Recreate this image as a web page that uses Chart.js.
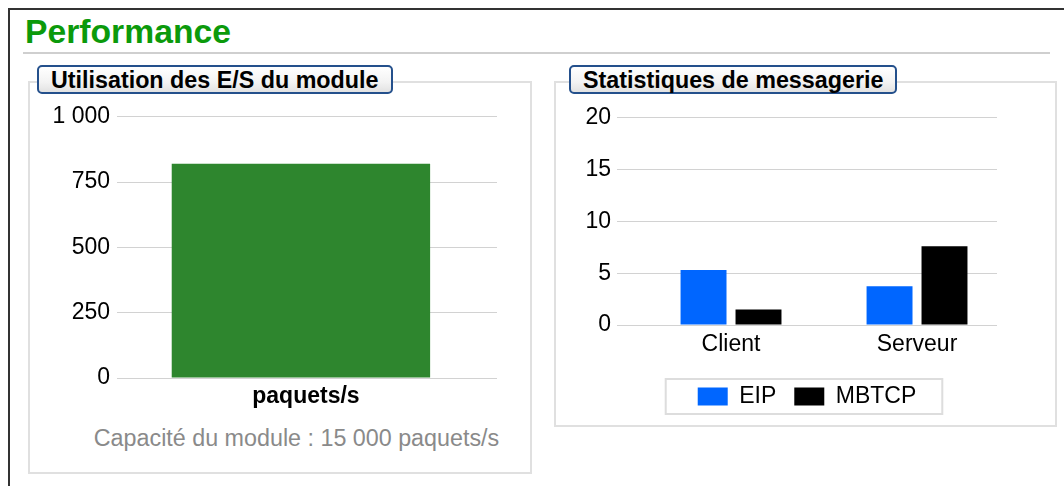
<!DOCTYPE html>
<html lang="fr">
<head>
<meta charset="utf-8">
<title>Performance</title>
<script src="https://cdn.jsdelivr.net/npm/chart.js@4.4.1/dist/chart.umd.min.js"></script>
<style>
    html, body {
        margin: 0;
        padding: 0;
        width: 1064px;
        height: 486px;
        overflow: hidden;
        background: #fff;
        font-family: "Liberation Sans", Arial, sans-serif;
    }
    .abs { position: absolute; box-sizing: border-box; }
    #frame {
        left: 8px; top: 8px; width: 1200px; height: 600px;
        border-left: 2px solid #333; border-top: 2px solid #333;
    }
    #pageTitle {
        left: 25px; top: 15px; margin: 0;
        font-size: 33.7px; line-height: 33px; font-weight: bold;
        color: #0b9a0b;
    }
    #rule { left: 23px; top: 52px; width: 1027px; height: 2px; background: #cfcfcf; }
    .panel { border: 2px solid #e0e0e0; background: #fff; }
    #ioPanel { left: 28px; top: 81px; width: 504px; height: 393px; }
    #msgPanel { left: 554px; top: 81px; width: 503px; height: 346px; }
    .caption {
        height: 29px;
        border: 2px solid #24508c;
        border-radius: 5px;
        background: linear-gradient(#ffffff, #f3f3f3 60%, #e2e2e2);
        font-size: 23.3px; font-weight: bold; line-height: 27px;
        padding-left: 12px;
        color: #000;
        white-space: nowrap;
    }
    #ioCaption { left: 37px; top: 65px; width: 356px; }
    #msgCaption { left: 569px; top: 65px; width: 328px; }
    #ioCapacity {
        left: 46px; top: 427px; width: 501px;
        text-align: center;
        font-size: 23.3px; line-height: 23px;
        color: #8a8a8a;
        white-space: nowrap;
    }
    canvas { position: absolute; }
    #ioChart { left: 30px; top: 96px; }
    #msgChart { left: 556px; top: 98px; }
</style>
</head>
<body>
<div class="abs" id="frame"></div>
<h1 class="abs" id="pageTitle">Performance</h1>
<div class="abs" id="rule"></div>
<div class="abs panel" id="ioPanel"></div>
<div class="abs panel" id="msgPanel"></div>
<div class="abs caption" id="ioCaption">Utilisation des E/S du module</div>
<div class="abs caption" id="msgCaption">Statistiques de messagerie</div>
<canvas id="ioChart" width="500" height="320"></canvas>
<div class="abs" id="ioCapacity"></div>
<canvas id="msgChart" width="499" height="345"></canvas>

<script>
// --- DATA ---
const ioCategories = ['paquets/s'];
const ioValues = [820];
const ioTicks = [0, 250, 500, 750, 1000];
const ioCapacity = 'Capacité du module : 15 000 paquets/s';

const msgCategories = ['Client', 'Serveur'];
const eipValues = [5.3, 3.75];
const mbtcpValues = [1.5, 7.6];
const msgTicks = [0, 5, 10, 15, 20];

// --- STYLE ---
const FONT = '"Liberation Sans", Arial, sans-serif';
const GRID = '#d2d2d2';
Chart.defaults.font.family = FONT;
Chart.defaults.font.size = 23;
Chart.defaults.color = '#000';

// "1 000" style thousands separator
function formatNumber(v) {
    return String(v).replace(/\B(?=(\d{3})+(?!\d))/g, ' ');
}

// category labels on a linear index axis: one tick per category
function categoryAxis(labels) {
    return {
        type: 'linear',
        offset: false,
        afterBuildTicks: axis => { axis.ticks = labels.map((_, i) => ({ value: i })); },
        grid: { display: false, drawTicks: false },
        border: { display: false },
        ticks: { autoSkip: false, maxRotation: 0, callback: v => labels[v] }
    };
}

// grey frame around the legend items
const legendFrame = {
    id: 'legendFrame',
    afterDraw(chart) {
        const boxes = chart.legend && chart.legend.legendHitBoxes;
        if (!boxes || !boxes.length) return;
        const left = Math.min(...boxes.map(b => b.left)) - 32;
        const right = Math.max(...boxes.map(b => b.left + b.width)) + 26;
        const top = Math.min(...boxes.map(b => b.top)) - 6;
        const bottom = Math.max(...boxes.map(b => b.top + b.height)) + 6;
        const ctx = chart.ctx;
        ctx.save();
        ctx.strokeStyle = '#dddddd';
        ctx.lineWidth = 2;
        ctx.strokeRect(left, top, right - left, bottom - top);
        ctx.restore();
    }
};

document.getElementById('ioCapacity').textContent = ioCapacity;

// --- MODULE I/O CHART ---
const ioX = categoryAxis(ioCategories);
Object.assign(ioX, { min: -0.484, max: 0.516, afterFit: axis => { axis.height = 33; } });
Object.assign(ioX.ticks, { padding: 5, labelOffset: 5, font: { weight: 'bold' } });

new Chart(document.getElementById('ioChart'), {
    type: 'bar',
    data: {
        datasets: [{
            data: ioValues.map((v, i) => ({ x: i, y: v })),
            backgroundColor: '#2e862e',
            borderWidth: 0,
            barPercentage: 0.68,
            categoryPercentage: 1
        }]
    },
    options: {
        responsive: false,
        animation: false,
        layout: { padding: { top: 12, right: 33, bottom: 5, left: 0 } },
        scales: {
            x: ioX,
            y: {
                min: 0,
                max: ioTicks[ioTicks.length - 1],
                afterBuildTicks: axis => { axis.ticks = ioTicks.map(v => ({ value: v })); },
                afterFit: axis => { axis.width = 87; },
                grid: { color: GRID, drawTicks: false },
                border: { display: false },
                ticks: { padding: 7, callback: v => formatNumber(v) }
            }
        },
        plugins: {
            legend: { display: false },
            tooltip: { enabled: false }
        }
    }
});

// --- MESSAGING CHART ---
const msgX = categoryAxis(msgCategories);
Object.assign(msgX, { min: -0.613, max: 1.43, afterFit: axis => { axis.height = 42; } });
Object.assign(msgX.ticks, { padding: 6 });

new Chart(document.getElementById('msgChart'), {
    type: 'bar',
    data: {
        datasets: [
            {
                label: 'EIP',
                data: eipValues.map((v, i) => ({ x: i, y: v })),
                backgroundColor: '#0066ff',
                borderWidth: 0
            },
            {
                label: 'MBTCP',
                data: mbtcpValues.map((v, i) => ({ x: i, y: v })),
                backgroundColor: '#000000',
                borderWidth: 0
            }
        ]
    },
    options: {
        responsive: false,
        animation: false,
        barPercentage: 0.836,
        categoryPercentage: 0.591,
        layout: { padding: { top: 14, right: 58, bottom: 25, left: 0 } },
        scales: {
            x: msgX,
            y: {
                min: 0,
                max: msgTicks[msgTicks.length - 1],
                afterBuildTicks: axis => { axis.ticks = msgTicks.map(v => ({ value: v })); },
                afterFit: axis => { axis.width = 61; },
                grid: { color: GRID, drawTicks: false },
                border: { display: false },
                ticks: { padding: 6 }
            }
        },
        plugins: {
            tooltip: { enabled: false },
            legend: {
                position: 'bottom',
                fullSize: false,
                labels: { boxWidth: 30, boxHeight: 18, padding: 18, font: { size: 23 } }
            }
        }
    },
    plugins: [legendFrame]
});
</script>
</body>
</html>
